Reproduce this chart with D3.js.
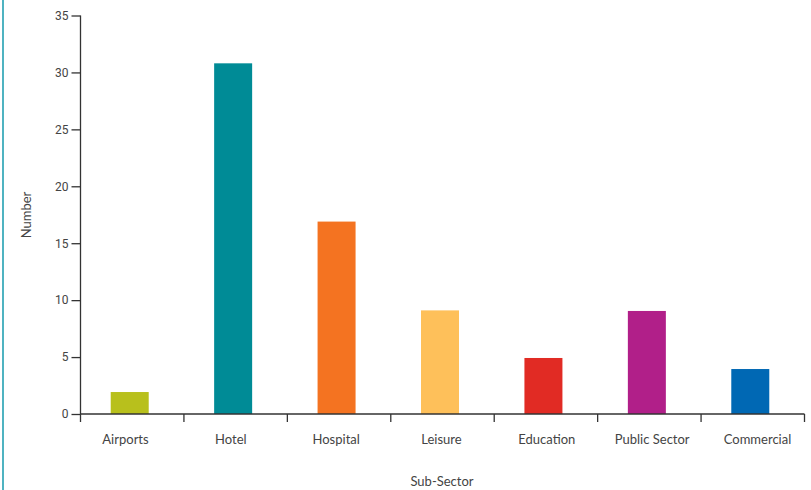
<!DOCTYPE html>
<html><head><meta charset="utf-8">
<script src="https://cdn.jsdelivr.net/npm/d3@7"></script>
<style>body{margin:0;background:#fff;}svg{display:block;}</style>
</head><body>
<svg id="c" width="811" height="490"></svg>
<script>
const categories = ["Airports","Hotel","Hospital","Leisure","Education","Public Sector","Commercial"];
const values = [1.93, 30.8, 16.9, 9.1, 4.92, 9.05, 3.95];
const colors = ["#b8c01c","#008b96","#f47321","#fec05a","#e12b24","#b11f89","#0068b4"];
const yTicks = [0,5,10,15,20,25,30,35];

const svg = d3.select("#c");
const m = {left:80.5, right:804.5, top:15.5, bottom:414};
const x = d3.scaleBand().domain(categories).range([m.left, m.right]).paddingInner(0).paddingOuter(0);
const xl = d3.scalePoint().domain(categories).range([125, 757]);
const y = d3.scaleLinear().domain([0,35]).range([m.bottom, m.top]);

svg.append("rect").attr("x",2).attr("y",0).attr("width",2).attr("height",490).attr("fill","#4fb3c1");

const font = "Lato, 'Open Sans', sans-serif";

// bars
const bw = 38;
svg.selectAll("rect.bar").data(categories).enter().append("rect")
  .attr("x", (d)=> x(d) + x.bandwidth()/2 - bw/2 - 2.5)
  .attr("y", (d,i)=> y(values[i]))
  .attr("width", bw)
  .attr("height", (d,i)=> y(0)-y(values[i]))
  .attr("fill", (d,i)=> colors[i]);

// y axis
const ya = svg.append("g").attr("transform",`translate(${m.left},0)`)
  .call(d3.axisLeft(y).tickValues(yTicks).tickSize(9).tickPadding(3));
ya.select(".domain").attr("stroke","#333").attr("stroke-width",1.3).attr("d",`M0,${m.top}V${m.bottom}`);
ya.selectAll(".tick line").attr("stroke","#333").attr("stroke-width",1.3);
ya.selectAll(".tick text").attr("fill","#444").style("font-family","Roboto, sans-serif").style("font-size","12px");

// x axis line and boundary ticks
svg.append("line").attr("x1",m.left).attr("x2",m.right).attr("y1",m.bottom).attr("y2",m.bottom)
  .attr("stroke","#333").attr("stroke-width",1.3);
const bounds = categories.map(c=>x(c)).concat([m.right]);
svg.append("g").selectAll("line").data(bounds).enter().append("line")
  .attr("x1",d=>d).attr("x2",d=>d).attr("y1",m.bottom).attr("y2",m.bottom+8)
  .attr("stroke","#333").attr("stroke-width",1.3);

// category labels
const xa = svg.append("g").attr("transform",`translate(0,${m.bottom})`)
  .call(d3.axisBottom(xl).tickSize(0).tickPadding(21));
xa.select(".domain").remove();
xa.selectAll(".tick text").attr("fill","#444").style("font-family",font).style("font-size","13px");

svg.append("text").attr("x",442).attr("y",486).attr("text-anchor","middle")
  .attr("fill","#444").style("font-family",font).style("font-size","13px").text("Sub-Sector");
svg.append("text").attr("transform","translate(31,215) rotate(-90)").attr("text-anchor","middle")
  .attr("fill","#444").style("font-family",font).style("font-size","13px").text("Number");
</script>
</body></html>
